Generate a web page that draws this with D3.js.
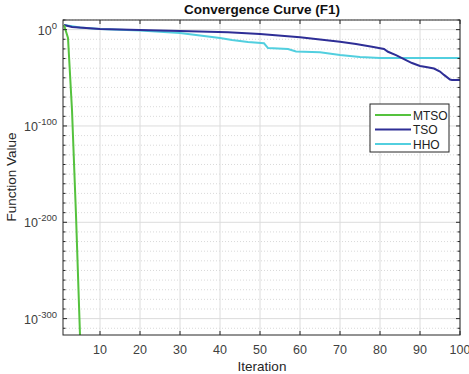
<!DOCTYPE html>
<html>
<head>
<meta charset="utf-8">
<script src="https://cdn.jsdelivr.net/npm/d3@7"></script>
<style>
  body { margin: 0; background: #fff; }
  text { font-family: "Liberation Sans", Arial, sans-serif; }
</style>
</head>
<body>
<svg id="chart" width="469" height="374"></svg>
<script>
// (values are function values, log scale)
const mtsoIter = [1, 2, 3, 4, 5],
      mtsoVals = [6e4, 2e-9, 3e-84, 3e-193, 1e-317];

const tsoIter = [1, 3, 10, 20, 30, 42, 50, 60, 65, 70, 74, 78, 81, 82, 84, 85.5, 87, 88, 90, 91.5, 93.5, 95, 96, 97.5, 98, 100],
      tsoVals = [6e4, 5e2, 4, 4e-1, 3e-2, 1.6e-3, 2.5e-5, 1e-8, 5e-11, 2.5e-13, 1e-15, 1.6e-18, 1e-20, 1e-23, 4e-27, 3e-30, 2.5e-33, 2e-35, 1.6e-38, 1.6e-39, 4e-41, 3e-44, 1e-47, 1.6e-52, 5e-53, 5e-53];

const hhoIter = [1, 5, 10, 20, 30, 35, 40, 43, 47, 51, 52, 57, 59, 65, 70, 75, 80, 100],
      hhoVals = [6e4, 1.6e2, 4, 1.2e-1, 3e-4, 8e-7, 2e-9, 1.6e-11, 1.2e-13, 6e-15, 8e-20, 8e-21, 2e-23, 2.5e-24, 4e-27, 3e-29, 3e-30, 3e-30];

const xTicks  = [10, 20, 30, 40, 50, 60, 70, 80, 90, 100],
      yTicks  = [0, -100, -200, -300],
      yMinor  = d3.range(-310, 11, 10),
      series  = [
        {name: 'MTSO', color: '#55c23e', x: mtsoIter, y: mtsoVals},
        {name: 'TSO',  color: '#2e2e96', x: tsoIter,  y: tsoVals},
        {name: 'HHO',  color: '#52cfdf', x: hhoIter,  y: hhoVals}
      ];

const svg = d3.select('#chart'),
      pL = 63, pR = 460, pT = 20, pB = 335;

const x = d3.scaleLinear().domain([1, 100]).range([pL + 1, pR]),
      y = d3.scaleLog().domain([1e-317, 1e10]).range([pB, pT]);

const yp = e => y(Math.pow(10, e));

// grid
const grid = svg.append('g');
grid.selectAll('.minor')
    .data(yMinor.filter(e => yTicks.indexOf(e) < 0))
    .enter().append('line')
    .attr('x1', pL).attr('x2', pR)
    .attr('y1', d => yp(d)).attr('y2', d => yp(d))
    .attr('stroke', '#cfcfcf')
    .attr('stroke-width', 0.8)
    .attr('stroke-dasharray', '1,2');
grid.selectAll('.vmaj')
    .data(xTicks)
    .enter().append('line')
    .attr('x1', d => x(d)).attr('x2', d => x(d))
    .attr('y1', pT).attr('y2', pB)
    .attr('stroke', '#dcdcdc');
grid.selectAll('.hmaj')
    .data(yTicks)
    .enter().append('line')
    .attr('x1', pL).attr('x2', pR)
    .attr('y1', d => yp(d)).attr('y2', d => yp(d))
    .attr('stroke', '#dcdcdc');

// lines
svg.append('clipPath').attr('id', 'clip')
   .append('rect').attr('x', pL).attr('y', pT)
   .attr('width', pR - pL).attr('height', pB - pT);

const line = d3.line()
    .x(d => x(d[0]))
    .y(d => y(d[1]));

svg.append('g').attr('clip-path', 'url(#clip)')
   .selectAll('path')
   .data(series.slice().reverse())
   .enter().append('path')
   .attr('d', s => line(s.x.map((v, i) => [v, s.y[i]])))
   .attr('fill', 'none')
   .attr('stroke', s => s.color)
   .attr('stroke-width', 2);

// box + ticks
const ax = svg.append('g').attr('stroke', '#262626').attr('stroke-width', 1);
ax.append('rect')
  .attr('x', pL).attr('y', pT)
  .attr('width', pR - pL).attr('height', pB - pT)
  .attr('fill', 'none');
xTicks.forEach(t => {
  ax.append('line').attr('x1', x(t)).attr('x2', x(t)).attr('y1', pB).attr('y2', pB - 4);
  ax.append('line').attr('x1', x(t)).attr('x2', x(t)).attr('y1', pT).attr('y2', pT + 4);
});
yMinor.forEach(e => {
  const len = yTicks.indexOf(e) < 0 ? 2.5 : 4;
  ax.append('line').attr('x1', pL).attr('x2', pL + len).attr('y1', yp(e)).attr('y2', yp(e));
  ax.append('line').attr('x1', pR).attr('x2', pR - len).attr('y1', yp(e)).attr('y2', yp(e));
});

// tick labels
svg.append('g').selectAll('text')
   .data(xTicks)
   .enter().append('text')
   .attr('x', d => x(d)).attr('y', 354)
   .attr('text-anchor', 'middle')
   .attr('font-size', 12.5)
   .attr('fill', '#404040')
   .text(d => d);

const yl = svg.append('g').selectAll('text')
   .data(yTicks)
   .enter().append('text')
   .attr('x', 57).attr('y', d => yp(d) + 5)
   .attr('text-anchor', 'end')
   .attr('font-size', 12.5)
   .attr('fill', '#404040');
yl.append('tspan').text('10');
yl.append('tspan').attr('dy', -6).attr('font-size', 9.5).text(d => d);

// titles
svg.append('text')
   .attr('x', 262).attr('y', 14)
   .attr('text-anchor', 'middle')
   .attr('font-size', 13.5).attr('font-weight', 'bold')
   .attr('fill', '#111')
   .text('Convergence Curve (F1)');
svg.append('text')
   .attr('x', 262).attr('y', 371)
   .attr('text-anchor', 'middle')
   .attr('font-size', 13.5)
   .attr('fill', '#262626')
   .text('Iteration');
svg.append('text')
   .attr('transform', 'translate(16,177) rotate(-90)')
   .attr('text-anchor', 'middle')
   .attr('font-size', 13.5)
   .attr('fill', '#262626')
   .text('Function Value');

// legend
const lg = svg.append('g').attr('transform', 'translate(370,104)');
lg.append('rect')
  .attr('width', 79).attr('height', 48)
  .attr('fill', '#fff').attr('stroke', '#262626');
const item = lg.selectAll('.item')
  .data(series)
  .enter().append('g')
  .attr('transform', (d, i) => `translate(0,${11 + i * 14.5})`);
item.append('line')
  .attr('x1', 5).attr('x2', 41)
  .attr('stroke', d => d.color).attr('stroke-width', 2);
item.append('text')
  .attr('x', 43).attr('y', 4.5)
  .attr('font-size', 12)
  .attr('fill', '#222')
  .text(d => d.name);
</script>
</body>
</html>
